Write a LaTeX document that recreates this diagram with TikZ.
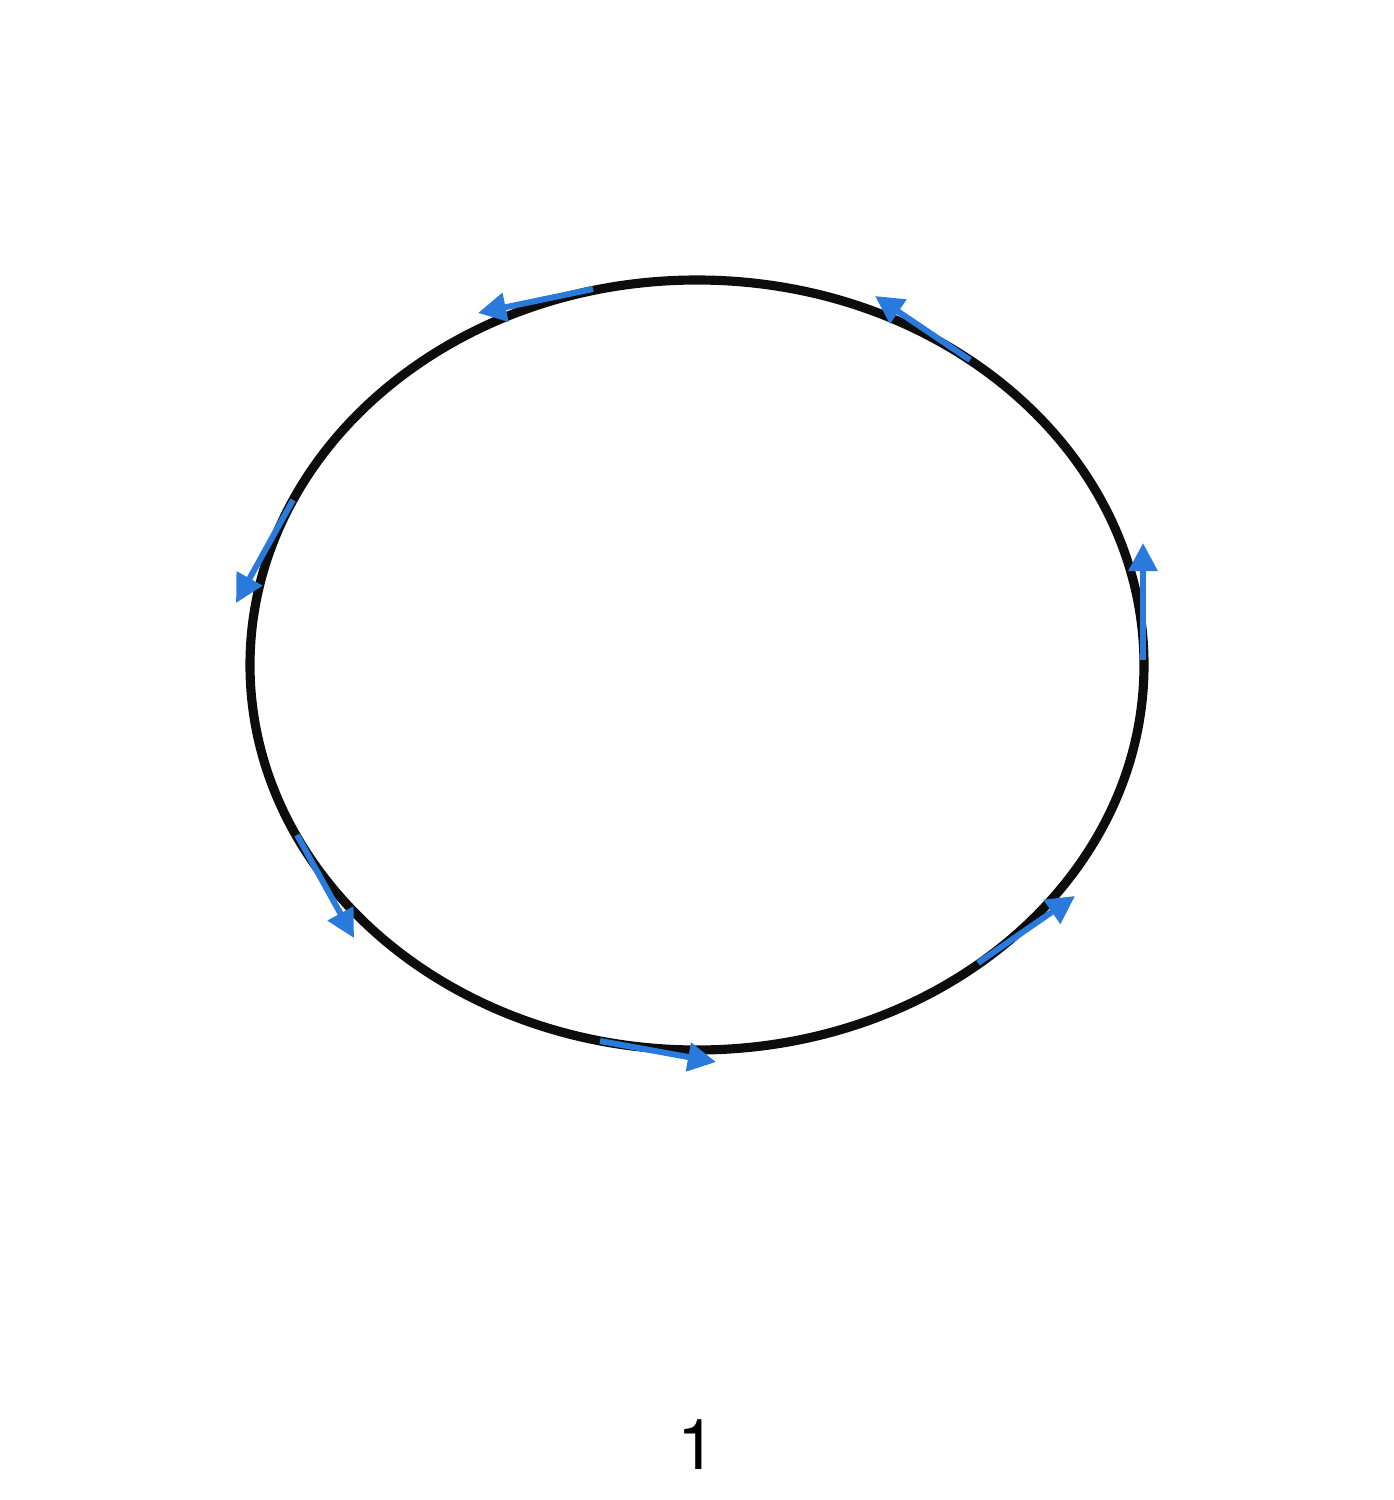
\documentclass[tikz,border=0pt]{standalone}
\usepackage{fontspec}
\setmainfont{TeX Gyre Heros}
\usetikzlibrary{arrows.meta}
\definecolor{flowblue}{RGB}{42,122,220}

\begin{document}
\begin{tikzpicture}
	[x=0.02cm, y=-0.02cm,
	 ring/.style={draw=black!95, line width=5.2pt},
	 flow/.style={draw=flowblue, line width=3.4pt, -{Triangle[length=16pt, width=16pt]}},
	 lbl/.style={font=\fontsize{40}{46}\selectfont}]
	\useasboundingbox (0,0) rectangle (1393,1500);
	\draw[ring] (697,665) ellipse [x radius=447, y radius=385];

	\coordinate (r0) at (1143,660);  \coordinate (r1) at (1143,543);
	\coordinate (ur0) at (970,360);  \coordinate (ur1) at (875,296);
	\coordinate (t0) at (593,289);   \coordinate (t1) at (478,313);
	\coordinate (l0) at (293,500);   \coordinate (l1) at (236,603);
	\coordinate (ll0) at (297,835);  \coordinate (ll1) at (354,938);
	\coordinate (b0) at (600,1041);  \coordinate (b1) at (716,1062);
	\coordinate (lr0) at (978,963);  \coordinate (lr1) at (1075,896);

	\draw[flow] (r0) -- (r1);
	\draw[flow] (ur0) -- (ur1);
	\draw[flow] (t0) -- (t1);
	\draw[flow] (l0) -- (l1);
	\draw[flow] (ll0) -- (ll1);
	\draw[flow] (b0) -- (b1);
	\draw[flow] (lr0) -- (lr1);

	\node[lbl] (num) at (697,1445) {1};
\end{tikzpicture}
\end{document}
